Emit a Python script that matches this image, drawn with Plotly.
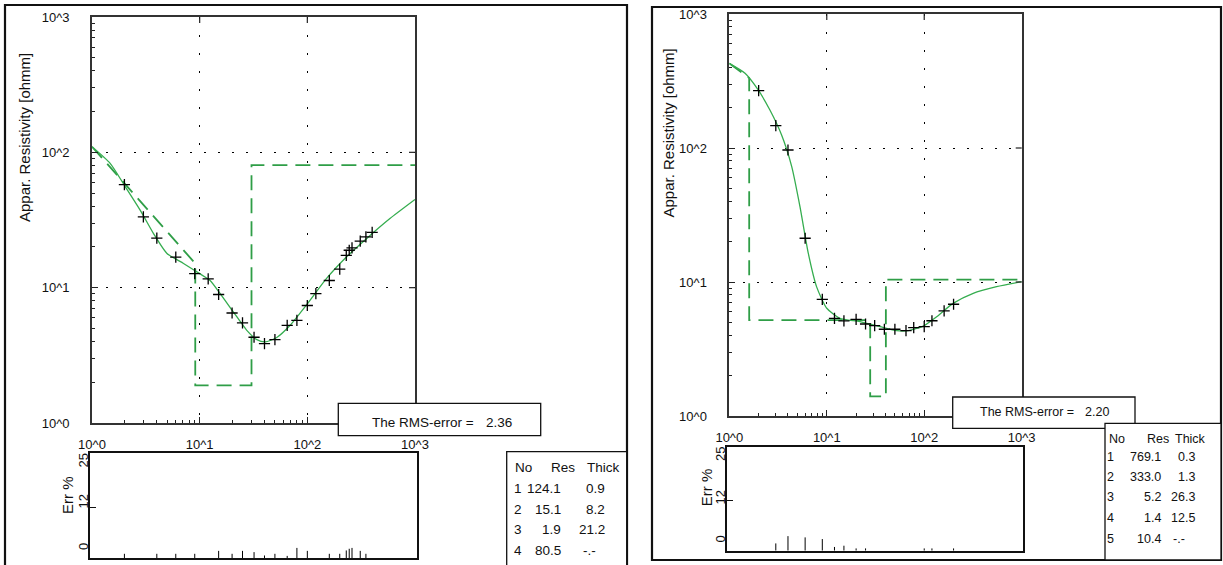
import numpy as np
import plotly.graph_objects as go

# ---------------- data ----------------
# Left sounding: field data (AB/2 [m], apparent resistivity [ohmm], error %)
ab2_left = [2, 3, 4, 6, 9, 12, 15, 20, 25, 32, 40, 50, 65, 80, 100, 120, 160, 200, 230, 245, 260, 310, 350, 400]
rho_left = [57.8, 33.3, 23.2, 16.8, 12.7, 11.6, 8.9, 6.5, 5.5, 4.3, 3.86, 4.13, 5.27, 5.74, 7.38, 9.04,
            11.3, 13.7, 17.3, 18.9, 19.7, 22.1, 23.7, 25.6]
err_left = [1.0, 0, 1.0, 1.0, 1.0, 0, 1.7, 1.0, 1.7, 1.4, 0.6, 1.0, 0.5, 2.4, 1.7, 0,
            1.0, 1.0, 1.8, 2.2, 2.4, 1.7, 1.0, 0]
# Left sounding: model response curve
curve_x_left = [1.0, 1.48, 2.0, 2.81, 3.73, 4.97, 7.08, 10.0, 12.5, 15.5, 20.6, 27.4, 34.0, 40.6,
                52.0, 69.2, 99.3, 151, 232, 356, 585, 1000]
curve_y_left = [110, 82.6, 57.1, 37.3, 25.1, 17.9, 15.1, 12.7, 11.3, 9.04, 6.6, 4.84, 4.13, 3.97,
                4.28, 5.27, 7.54, 11.7, 16.9, 23.1, 32.4, 44.8]
# Left sounding: layered model
layer_no_left = [1, 2, 3, 4]
res_left = [124.1, 15.1, 1.9, 80.5]
thick_left = [0.9, 8.2, 21.2]
rms_left = 2.36

# Right sounding
ab2_right = [2, 3, 4, 6, 9, 12, 15, 20, 25, 31, 39, 50, 65, 78, 100, 120, 160, 200]
rho_right = [268, 147, 96.6, 21.2, 7.43, 5.36, 5.12, 5.27, 4.86, 4.72, 4.44, 4.44, 4.33, 4.56,
             4.64, 5.14, 6.08, 6.82]
err_right = [0, 1.75, 3.5, 3.2, 2.8, 0.9, 1.2, 0.55, 0.55, 0, 0, 0, 0, 0, 0.55, 0.55, 0, 0.55]
curve_x_right = [1.0, 1.45, 1.98, 2.61, 3.44, 4.37, 5.31, 6.46, 7.87, 10.0, 13.6, 21.9, 35.2, 52.1,
                 68.5, 97.7, 134, 198, 318, 553, 1000]
curve_y_right = [428, 361, 271, 192, 125, 72.6, 36.5, 16.4, 9.2, 6.37, 5.36, 5.06, 4.64, 4.33,
                 4.33, 4.69, 5.51, 6.93, 8.24, 9.22, 10.05]
layer_no_right = [1, 2, 3, 4, 5]
res_right = [769.1, 333.0, 5.2, 1.4, 10.4]
thick_right = [0.3, 1.3, 26.3, 12.5]
rms_right = 2.20

decade_vals = [1, 10, 100, 1000]
decade_text = ["10^0", "10^1", "10^2", "10^3"]
err_label_vals = ["25", "12", "0"]

# ---------------- styling / layout constants ----------------
W, H = 1223, 565
FONT = "Liberation Sans, Arial, Helvetica, sans-serif"
GREEN = "#35ad4f"
DGREEN = "#2f9e47"

def dx(p0, p1):
    return [p0 / W, p1 / W]

def dy(p0, p1):
    return [1 - p1 / H, 1 - p0 / H]

def px(x):
    return x / W

def py(y):
    return 1 - y / H

def model_step(res, thick, x0, y0, xmax):
    depths = np.cumsum(thick)
    xs, ys = [x0], [y0]
    for i, d in enumerate(depths):
        if d <= x0:
            continue
        xs += [float(d), float(d)]
        ys += [res[i], res[i + 1]]
    xs.append(xmax)
    ys.append(res[-1])
    return xs, ys

def err_segments(xv, ev):
    xs, ys = [], []
    for x, e in zip(xv, ev):
        if e > 0:
            xs += [x, x, None]
            ys += [0, e, None]
    return xs, ys

fig = go.Figure()

panels = [
    dict(xa="x", ya="y", xe="x2", ye="y2",
         ab2=ab2_left, rho=rho_left, err=err_left, cx=curve_x_left, cy=curve_y_left,
         res=res_left, thick=thick_left, no=layer_no_left, rms=rms_left, fs=13.5,
         main=(92, 17, 415, 423), errbox=(90, 453, 417, 558),
         ytitle=(24, 138), errtitle=(67, 495), errlabels=[(83, 460.5), (83, 501.5), (83, 547)],
         rmsbox=(338.3, 403.3, 540.7, 435.7), rmstext=(370, 484, 422.5),
         frame=(5, 5, 627, 575),
         table=(506.7, 451.7, 626.7, 575), rows=[467.5, 488.8, 509.2, 529.7, 550.3],
         cols=dict(no_h=512.7, no_c=518, res_h=577.3, res_v=563.3, th_h=621.7, th_v=607)),
    dict(xa="x3", ya="y3", xe="x4", ye="y4",
         ab2=ab2_right, rho=rho_right, err=err_right, cx=curve_x_right, cy=curve_y_right,
         res=res_right, thick=thick_right, no=layer_no_right, rms=rms_right, fs=12.5,
         main=(729.3, 14, 1021.7, 416), errbox=(727.3, 446.7, 1023.3, 550.7),
         ytitle=(667.5, 133), errtitle=(706.7, 487.5), errlabels=[(720, 454), (720, 497.5), (720, 539.5)],
         rmsbox=(952.7, 397, 1135, 428.3), rmstext=(978, 1083.3, 411.7),
         frame=(652, 7, 1221, 560),
         table=(1105, 423.3, 1221, 560), rows=[439.2, 456.7, 477.0, 497.3, 517.8, 538.8],
         cols=dict(no_h=1106.7, no_c=1110, res_h=1171, res_v=1163.3, th_h=1208, th_v=1196.7)),
]

shapes = []
annotations = []
tickfont = dict(family=FONT, size=13, color="#111")

for k, P in enumerate(panels):
    xa, ya, xe, ye = P["xa"], P["ya"], P["xe"], P["ye"]
    # model (dashed step)
    sx, sy = model_step(P["res"], P["thick"], P["cx"][0], P["cy"][0], 1000)
    fig.add_trace(go.Scatter(x=sx, y=sy, mode="lines", xaxis=xa, yaxis=ya,
                             line=dict(color=DGREEN, width=1.8, dash="15px,8px"),
                             showlegend=False, hoverinfo="skip"))
    # calculated curve
    fig.add_trace(go.Scatter(x=P["cx"], y=P["cy"], mode="lines", xaxis=xa, yaxis=ya,
                             line=dict(color=GREEN, width=1.3, shape="spline", smoothing=0.6),
                             showlegend=False, hoverinfo="skip"))
    # field data
    fig.add_trace(go.Scatter(x=P["ab2"], y=P["rho"], mode="markers", xaxis=xa, yaxis=ya,
                             marker=dict(symbol="cross-thin", size=8, line=dict(color="#000", width=1.3)),
                             showlegend=False))
    # error bars
    ex, ey = err_segments(P["ab2"], P["err"])
    fig.add_trace(go.Scatter(x=ex, y=ey, mode="lines", xaxis=xe, yaxis=ye,
                             line=dict(color="#000", width=1), showlegend=False, hoverinfo="skip"))

    mx0, my0, mx1, my1 = P["main"]
    ex0, ey0, ex1, ey1 = P["errbox"]
    ppd = (mx1 - mx0) / 3.0
    minor_vals = [m * 10 ** d for d in range(3) for m in range(2, 10)]

    axis_common = dict(type="log", range=[0, 3], tickmode="array", tickvals=decade_vals,
                       ticktext=decade_text, ticks="inside", ticklen=6, tickwidth=1.2, tickcolor="#222",
                       showline=True, linecolor="#333", linewidth=1.6, mirror=True,
                       showgrid=True, gridcolor="#000", gridwidth=1.4,
                       tickfont=tickfont, zeroline=False, automargin=False,
                       minor=dict(tickmode="array", tickvals=minor_vals, ticks="inside",
                                  ticklen=3, tickcolor="#222", showgrid=False))
    xn = "xaxis" if xa == "x" else "xaxis" + xa[1:]
    yn = "yaxis" if ya == "y" else "yaxis" + ya[1:]
    fig.layout[xn] = dict(axis_common, domain=dx(mx0, mx1), anchor=ya, griddash="2px,16px",
                          ticklabelstandoff=9)
    fig.layout[yn] = dict(axis_common, domain=dy(my0, my1), anchor=xa, griddash="2px,12px",
                          ticklabelstandoff=18)
    xen = "xaxis" + xe[1:]
    yen = "yaxis" + ye[1:]
    fig.layout[xen] = dict(type="log", range=[-(mx0 - ex0) / ppd, 3 + (ex1 - mx1) / ppd],
                           domain=dx(ex0, ex1), anchor=ye, showticklabels=False, ticks="",
                           showgrid=False, zeroline=False, showline=True, linecolor="#111",
                           linewidth=1.6, mirror=True, automargin=False)
    fig.layout[yen] = dict(range=[0, 25], domain=dy(ey0, ey1), anchor=xe, tickmode="array",
                           tickvals=[12], ticks="inside", ticklen=6, tickcolor="#111",
                           showticklabels=False, showgrid=False, zeroline=False, showline=True,
                           linecolor="#111", linewidth=1.6, mirror=True, automargin=False)

    # mirrored major ticks on top and right sides of the main plot
    for v in [10, 100]:
        shapes.append(dict(type="line", xref=xa, yref=ya + " domain", x0=v, x1=v, y0=1,
                           y1=1 - 6 / (my1 - my0), line=dict(color="#222", width=1.2)))
        shapes.append(dict(type="line", xref=xa + " domain", yref=ya, x0=1, x1=1 - 6 / (mx1 - mx0),
                           y0=v, y1=v, line=dict(color="#222", width=1.2)))

    # panel frame
    f0, f1, f2, f3 = P["frame"]
    shapes.append(dict(type="rect", xref="paper", yref="paper", x0=px(f0), x1=px(f2),
                       y0=py(f3), y1=py(f1), line=dict(color="#111", width=2.2), layer="above"))
    tf = dict(family=FONT, size=P["fs"], color="#111")
    # RMS box
    r0, r1, r2, r3 = P["rmsbox"]
    shapes.append(dict(type="rect", xref="paper", yref="paper", x0=px(r0), x1=px(r2),
                       y0=py(r3), y1=py(r1), line=dict(color="#111", width=1.3),
                       fillcolor="white", layer="above"))
    tx0, tx1, ty = P["rmstext"]
    annotations.append(dict(x=px(tx0), y=py(ty), xref="paper", yref="paper", xanchor="left",
                            yanchor="middle", text="The RMS-error =", showarrow=False, font=tf))
    annotations.append(dict(x=px(tx1), y=py(ty), xref="paper", yref="paper", xanchor="left",
                            yanchor="middle", text=f"{P['rms']:.2f}", showarrow=False, font=tf))
    # layer table box
    t0, t1, t2, t3 = P["table"]
    shapes.append(dict(type="rect", xref="paper", yref="paper", x0=px(t0), x1=px(t2),
                       y0=py(t3), y1=py(t1), line=dict(color="#111", width=1.3),
                       fillcolor="white", layer="above"))
    C = P["cols"]
    rows = P["rows"]

    def ann(x, y, text, anchor):
        annotations.append(dict(x=px(x), y=py(y), xref="paper", yref="paper", xanchor=anchor,
                                yanchor="middle", text=text, showarrow=False, font=tf))
    ann(C["no_h"], rows[0], "No", "left")
    ann(C["res_h"], rows[0], "Res", "right")
    ann(C["th_h"], rows[0], "Thick", "right")
    for i, (n, r) in enumerate(zip(P["no"], P["res"])):
        yrow = rows[i + 1]
        ann(C["no_c"], yrow, str(n), "center")
        ann(C["res_v"], yrow, f"{r:.1f}", "right")
        if i < len(P["thick"]):
            ann(C["th_v"], yrow, f"{P['thick'][i]:.1f}", "right")
        else:
            ann(C["th_v"] - 26, yrow, "-.-", "left")

    # axis titles
    annotations.append(dict(x=px(P["ytitle"][0]), y=py(P["ytitle"][1]), xref="paper", yref="paper",
                            text="Appar. Resistivity [ohmm]", textangle=-90, showarrow=False,
                            xanchor="center", yanchor="middle",
                            font=dict(family=FONT, size=15, color="#111")))
    annotations.append(dict(x=px(P["errtitle"][0]), y=py(P["errtitle"][1]), xref="paper", yref="paper",
                            text="Err %", textangle=-90, showarrow=False,
                            xanchor="center", yanchor="middle",
                            font=dict(family=FONT, size=15, color="#111")))
    for lab, (lx, ly) in zip(err_label_vals, P["errlabels"]):
        annotations.append(dict(x=px(lx), y=py(ly), xref="paper", yref="paper", text=lab,
                                textangle=-90, showarrow=False, xanchor="center", yanchor="middle",
                                font=dict(family=FONT, size=13, color="#111")))

fig.update_layout(width=W, height=H, margin=dict(l=0, r=0, t=0, b=0, autoexpand=False),
                  paper_bgcolor="white", plot_bgcolor="white", showlegend=False,
                  shapes=shapes, annotations=annotations)

fig.write_html("out.html", config={"displayModeBar": False},
               post_script="document.body.style.margin='0';document.body.style.overflow='hidden';")
